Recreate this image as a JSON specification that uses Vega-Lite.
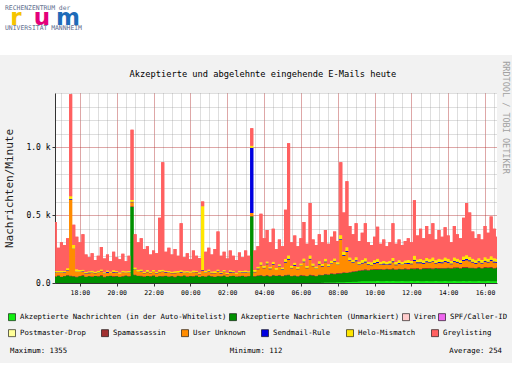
{
"$schema": "https://vega.github.io/schema/vega-lite/v6.json",
"background": "#F2F2F2",
"padding": 0,
"spacing": 6,
"config": {
  "view": {"stroke": null},
  "font": "DejaVu Sans Mono",
  "axis": {"labelFont": "DejaVu Sans Mono", "titleFont": "DejaVu Sans Mono", "labelColor": "#000", "titleColor": "#222", "titleFontWeight": "normal", "domainColor": "#333", "tickColor": "#333"},
  "legend": {"labelFont": "DejaVu Sans Mono", "labelFontSize": 7.3, "labelColor": "#000", "symbolType": "square", "symbolSize": 49, "symbolStrokeColor": "#000", "symbolStrokeWidth": 0.6, "labelOffset": 4, "labelLimit": 400, "padding": 0}
},
"datasets": {
  "mail": [
{"t":"2024-03-05T16:40","a":0,"b":46,"f":4,"g":24,"h":3,"i":12,"j":361},
{"t":"2024-03-05T16:50","a":0,"b":52,"f":5,"g":20,"h":2,"i":10,"j":171},
{"t":"2024-03-05T17:00","a":0,"b":44,"f":3,"g":26,"h":4,"i":13,"j":210},
{"t":"2024-03-05T17:10","a":0,"b":50,"f":4,"g":22,"h":3,"i":9,"j":192},
{"t":"2024-03-05T17:20","a":0,"b":55,"f":6,"g":30,"h":3,"i":14,"j":222},
{"t":"2024-03-05T17:30","a":0,"b":50,"f":5,"g":560,"h":4,"i":20,"j":751},
{"t":"2024-03-05T17:40","a":0,"b":48,"f":4,"g":200,"h":3,"i":25,"j":150},
{"t":"2024-03-05T17:50","a":0,"b":42,"f":5,"g":35,"h":3,"i":16,"j":239},
{"t":"2024-03-05T18:00","a":0,"b":50,"f":4,"g":28,"h":2,"i":12,"j":204},
{"t":"2024-03-05T18:10","a":0,"b":53,"f":6,"g":24,"h":4,"i":11,"j":262},
{"t":"2024-03-05T18:20","a":0,"b":45,"f":3,"g":21,"h":3,"i":9,"j":129},
{"t":"2024-03-05T18:30","a":0,"b":49,"f":4,"g":19,"h":5,"i":10,"j":103},
{"t":"2024-03-05T18:40","a":0,"b":44,"f":5,"g":25,"h":3,"i":13,"j":130},
{"t":"2024-03-05T18:50","a":0,"b":51,"f":3,"g":18,"h":2,"i":8,"j":88},
{"t":"2024-03-05T19:00","a":0,"b":47,"f":4,"g":23,"h":4,"i":12,"j":110},
{"t":"2024-03-05T19:10","a":0,"b":54,"f":5,"g":27,"h":3,"i":11,"j":165},
{"t":"2024-03-05T19:20","a":0,"b":43,"f":4,"g":20,"h":3,"i":9,"j":101},
{"t":"2024-03-05T19:30","a":0,"b":49,"f":3,"g":24,"h":5,"i":12,"j":117},
{"t":"2024-03-05T19:40","a":0,"b":52,"f":4,"g":17,"h":2,"i":8,"j":77},
{"t":"2024-03-05T19:50","a":0,"b":46,"f":6,"g":26,"h":3,"i":13,"j":136},
{"t":"2024-03-05T20:00","a":0,"b":50,"f":4,"g":21,"h":4,"i":10,"j":101},
{"t":"2024-03-05T20:10","a":0,"b":44,"f":3,"g":19,"h":3,"i":9,"j":97},
{"t":"2024-03-05T20:20","a":0,"b":48,"f":5,"g":24,"h":2,"i":12,"j":124},
{"t":"2024-03-05T20:30","a":0,"b":53,"f":4,"g":18,"h":3,"i":8,"j":74},
{"t":"2024-03-05T20:40","a":0,"b":47,"f":4,"g":22,"h":4,"i":11,"j":112},
{"t":"2024-03-05T20:50","a":0,"b":560,"f":5,"g":30,"h":3,"i":14,"j":518},
{"t":"2024-03-05T21:00","a":0,"b":58,"f":5,"g":32,"h":4,"i":15,"j":246},
{"t":"2024-03-05T21:10","a":0,"b":52,"f":4,"g":26,"h":3,"i":12,"j":203},
{"t":"2024-03-05T21:20","a":0,"b":49,"f":6,"g":28,"h":3,"i":13,"j":231},
{"t":"2024-03-05T21:30","a":0,"b":45,"f":4,"g":22,"h":2,"i":10,"j":167},
{"t":"2024-03-05T21:40","a":0,"b":51,"f":3,"g":25,"h":4,"i":12,"j":175},
{"t":"2024-03-05T21:50","a":0,"b":47,"f":4,"g":20,"h":3,"i":9,"j":127},
{"t":"2024-03-05T22:00","a":0,"b":53,"f":5,"g":24,"h":3,"i":11,"j":144},
{"t":"2024-03-05T22:10","a":0,"b":44,"f":4,"g":21,"h":2,"i":10,"j":139},
{"t":"2024-03-05T22:20","a":0,"b":50,"f":4,"g":26,"h":3,"i":13,"j":384},
{"t":"2024-03-05T22:30","a":0,"b":48,"f":5,"g":28,"h":4,"i":12,"j":793},
{"t":"2024-03-05T22:40","a":0,"b":52,"f":4,"g":22,"h":3,"i":10,"j":139},
{"t":"2024-03-05T22:50","a":0,"b":46,"f":3,"g":25,"h":3,"i":12,"j":171},
{"t":"2024-03-05T23:00","a":0,"b":49,"f":4,"g":19,"h":2,"i":9,"j":127},
{"t":"2024-03-05T23:10","a":0,"b":43,"f":5,"g":24,"h":4,"i":11,"j":163},
{"t":"2024-03-05T23:20","a":0,"b":51,"f":4,"g":20,"h":3,"i":10,"j":112},
{"t":"2024-03-05T23:30","a":0,"b":47,"f":4,"g":27,"h":3,"i":13,"j":346},
{"t":"2024-03-05T23:40","a":0,"b":55,"f":3,"g":18,"h":2,"i":8,"j":104},
{"t":"2024-03-05T23:50","a":0,"b":45,"f":5,"g":23,"h":4,"i":11,"j":132},
{"t":"2024-03-06T00:00","a":0,"b":50,"f":4,"g":19,"h":3,"i":9,"j":90},
{"t":"2024-03-06T00:10","a":0,"b":48,"f":4,"g":25,"h":3,"i":12,"j":148},
{"t":"2024-03-06T00:20","a":0,"b":53,"f":5,"g":21,"h":2,"i":10,"j":109},
{"t":"2024-03-06T00:30","a":0,"b":44,"f":3,"g":18,"h":3,"i":9,"j":108},
{"t":"2024-03-06T00:40","a":0,"b":49,"f":4,"g":40,"h":3,"i":470,"j":34},
{"t":"2024-03-06T00:50","a":0,"b":46,"f":4,"g":24,"h":4,"i":12,"j":140},
{"t":"2024-03-06T01:00","a":0,"b":52,"f":5,"g":26,"h":3,"i":13,"j":161},
{"t":"2024-03-06T01:10","a":0,"b":48,"f":4,"g":20,"h":3,"i":10,"j":125},
{"t":"2024-03-06T01:20","a":0,"b":45,"f":3,"g":24,"h":2,"i":12,"j":164},
{"t":"2024-03-06T01:30","a":0,"b":50,"f":4,"g":28,"h":4,"i":14,"j":280},
{"t":"2024-03-06T01:40","a":0,"b":47,"f":4,"g":19,"h":3,"i":9,"j":118},
{"t":"2024-03-06T01:50","a":0,"b":53,"f":5,"g":23,"h":3,"i":11,"j":135},
{"t":"2024-03-06T02:00","a":0,"b":44,"f":3,"g":18,"h":2,"i":8,"j":105},
{"t":"2024-03-06T02:10","a":0,"b":49,"f":4,"g":25,"h":4,"i":12,"j":146},
{"t":"2024-03-06T02:20","a":0,"b":51,"f":4,"g":21,"h":3,"i":10,"j":111},
{"t":"2024-03-06T02:30","a":0,"b":46,"f":3,"g":17,"h":2,"i":8,"j":94},
{"t":"2024-03-06T02:40","a":0,"b":48,"f":5,"g":24,"h":3,"i":11,"j":134},
{"t":"2024-03-06T02:50","a":0,"b":52,"f":4,"g":20,"h":3,"i":9,"j":102},
{"t":"2024-03-06T03:00","a":0,"b":45,"f":4,"g":26,"h":4,"i":13,"j":148},
{"t":"2024-03-06T03:10","a":0,"b":50,"f":3,"g":21,"h":3,"i":10,"j":113},
{"t":"2024-03-06T03:20","a":0,"b":490,"f":4,"g":22,"h":480,"i":15,"j":129},
{"t":"2024-03-06T03:30","a":0,"b":47,"f":4,"g":28,"h":4,"i":12,"j":145},
{"t":"2024-03-06T03:40","a":0,"b":52,"f":5,"g":45,"h":4,"i":14,"j":150},
{"t":"2024-03-06T03:50","a":0,"b":55,"f":5,"g":70,"h":5,"i":18,"j":357},
{"t":"2024-03-06T04:00","a":0,"b":50,"f":4,"g":55,"h":3,"i":15,"j":203},
{"t":"2024-03-06T04:10","a":0,"b":53,"f":6,"g":80,"h":4,"i":16,"j":231},
{"t":"2024-03-06T04:20","a":0,"b":48,"f":4,"g":50,"h":5,"i":13,"j":180},
{"t":"2024-03-06T04:30","a":0,"b":56,"f":5,"g":75,"h":4,"i":17,"j":243},
{"t":"2024-03-06T04:40","a":0,"b":51,"f":4,"g":40,"h":3,"i":12,"j":140},
{"t":"2024-03-06T04:50","a":0,"b":54,"f":5,"g":60,"h":4,"i":15,"j":182},
{"t":"2024-03-06T05:00","a":0,"b":49,"f":4,"g":45,"h":3,"i":14,"j":155},
{"t":"2024-03-06T05:10","a":0,"b":55,"f":6,"g":90,"h":5,"i":20,"j":364},
{"t":"2024-03-06T05:20","a":0,"b":57,"f":5,"g":110,"h":6,"i":25,"j":827},
{"t":"2024-03-06T05:30","a":0,"b":50,"f":4,"g":55,"h":4,"i":15,"j":172},
{"t":"2024-03-06T05:40","a":0,"b":53,"f":5,"g":70,"h":5,"i":16,"j":201},
{"t":"2024-03-06T05:50","a":0,"b":48,"f":4,"g":50,"h":3,"i":13,"j":152},
{"t":"2024-03-06T06:00","a":0,"b":55,"f":5,"g":65,"h":4,"i":15,"j":186},
{"t":"2024-03-06T06:10","a":0,"b":52,"f":6,"g":95,"h":5,"i":22,"j":270},
{"t":"2024-03-06T06:20","a":0,"b":50,"f":4,"g":55,"h":3,"i":14,"j":164},
{"t":"2024-03-06T06:30","a":0,"b":58,"f":5,"g":110,"h":6,"i":24,"j":387},
{"t":"2024-03-06T06:40","a":0,"b":54,"f":5,"g":65,"h":4,"i":16,"j":176},
{"t":"2024-03-06T06:50","a":0,"b":50,"f":4,"g":50,"h":3,"i":14,"j":159},
{"t":"2024-03-06T07:00","a":0,"b":57,"f":5,"g":75,"h":5,"i":18,"j":200},
{"t":"2024-03-06T07:10","a":2,"b":55,"f":4,"g":60,"h":4,"i":15,"j":160},
{"t":"2024-03-06T07:20","a":3,"b":60,"f":5,"g":85,"h":5,"i":20,"j":212},
{"t":"2024-03-06T07:30","a":3,"b":58,"f":4,"g":55,"h":4,"i":15,"j":151},
{"t":"2024-03-06T07:40","a":4,"b":62,"f":5,"g":70,"h":5,"i":18,"j":176},
{"t":"2024-03-06T07:50","a":4,"b":60,"f":6,"g":85,"h":5,"i":20,"j":200},
{"t":"2024-03-06T08:00","a":5,"b":63,"f":5,"g":60,"h":4,"i":16,"j":157},
{"t":"2024-03-06T08:10","a":5,"b":65,"f":6,"g":240,"h":6,"i":30,"j":538},
{"t":"2024-03-06T08:20","a":6,"b":68,"f":6,"g":120,"h":6,"i":25,"j":289},
{"t":"2024-03-06T08:30","a":7,"b":66,"f":5,"g":150,"h":7,"i":28,"j":487},
{"t":"2024-03-06T08:40","a":8,"b":70,"f":5,"g":80,"h":5,"i":20,"j":232},
{"t":"2024-03-06T08:50","a":9,"b":72,"f":6,"g":60,"h":5,"i":20,"j":188},
{"t":"2024-03-06T09:00","a":10,"b":75,"f":6,"g":70,"h":6,"i":22,"j":251},
{"t":"2024-03-06T09:10","a":11,"b":78,"f":5,"g":40,"h":5,"i":18,"j":153},
{"t":"2024-03-06T09:20","a":12,"b":80,"f":6,"g":45,"h":6,"i":20,"j":201},
{"t":"2024-03-06T09:30","a":12,"b":82,"f":7,"g":50,"h":7,"i":24,"j":258},
{"t":"2024-03-06T09:40","a":13,"b":80,"f":5,"g":35,"h":5,"i":18,"j":144},
{"t":"2024-03-06T09:50","a":12,"b":83,"f":6,"g":30,"h":4,"i":17,"j":128},
{"t":"2024-03-06T10:00","a":13,"b":85,"f":6,"g":38,"h":6,"i":20,"j":172},
{"t":"2024-03-06T10:10","a":14,"b":82,"f":7,"g":45,"h":7,"i":24,"j":236},
{"t":"2024-03-06T10:20","a":13,"b":86,"f":5,"g":30,"h":5,"i":18,"j":133},
{"t":"2024-03-06T10:30","a":12,"b":84,"f":6,"g":35,"h":6,"i":20,"j":157},
{"t":"2024-03-06T10:40","a":14,"b":88,"f":5,"g":28,"h":4,"i":17,"j":114},
{"t":"2024-03-06T10:50","a":13,"b":85,"f":6,"g":33,"h":6,"i":19,"j":138},
{"t":"2024-03-06T11:00","a":14,"b":87,"f":7,"g":45,"h":7,"i":25,"j":255},
{"t":"2024-03-06T11:10","a":12,"b":84,"f":5,"g":30,"h":5,"i":18,"j":136},
{"t":"2024-03-06T11:20","a":13,"b":88,"f":6,"g":34,"h":6,"i":21,"j":152},
{"t":"2024-03-06T11:30","a":14,"b":85,"f":5,"g":28,"h":5,"i":18,"j":125},
{"t":"2024-03-06T11:40","a":13,"b":89,"f":6,"g":32,"h":6,"i":20,"j":144},
{"t":"2024-03-06T11:50","a":12,"b":86,"f":6,"g":36,"h":7,"i":22,"j":161},
{"t":"2024-03-06T12:00","a":14,"b":90,"f":5,"g":30,"h":5,"i":19,"j":137},
{"t":"2024-03-06T12:10","a":13,"b":88,"f":7,"g":55,"h":8,"i":30,"j":409},
{"t":"2024-03-06T12:20","a":14,"b":91,"f":6,"g":35,"h":6,"i":22,"j":176},
{"t":"2024-03-06T12:30","a":12,"b":87,"f":6,"g":40,"h":7,"i":24,"j":224},
{"t":"2024-03-06T12:40","a":13,"b":92,"f":5,"g":32,"h":6,"i":20,"j":162},
{"t":"2024-03-06T12:50","a":14,"b":89,"f":7,"g":42,"h":8,"i":25,"j":235},
{"t":"2024-03-06T13:00","a":13,"b":93,"f":6,"g":35,"h":6,"i":22,"j":185},
{"t":"2024-03-06T13:10","a":12,"b":90,"f":7,"g":45,"h":7,"i":26,"j":253},
{"t":"2024-03-06T13:20","a":14,"b":94,"f":5,"g":30,"h":5,"i":20,"j":152},
{"t":"2024-03-06T13:30","a":13,"b":91,"f":6,"g":38,"h":7,"i":23,"j":212},
{"t":"2024-03-06T13:40","a":12,"b":95,"f":6,"g":33,"h":6,"i":21,"j":167},
{"t":"2024-03-06T13:50","a":14,"b":92,"f":7,"g":42,"h":8,"i":25,"j":222},
{"t":"2024-03-06T14:00","a":13,"b":96,"f":6,"g":35,"h":6,"i":22,"j":172},
{"t":"2024-03-06T14:10","a":12,"b":93,"f":5,"g":28,"h":5,"i":19,"j":138},
{"t":"2024-03-06T14:20","a":14,"b":95,"f":7,"g":40,"h":7,"i":24,"j":233},
{"t":"2024-03-06T14:30","a":13,"b":97,"f":6,"g":34,"h":6,"i":22,"j":182},
{"t":"2024-03-06T14:40","a":12,"b":94,"f":6,"g":30,"h":6,"i":20,"j":162},
{"t":"2024-03-06T14:50","a":14,"b":96,"f":7,"g":45,"h":8,"i":26,"j":284},
{"t":"2024-03-06T15:00","a":13,"b":98,"f":7,"g":50,"h":8,"i":28,"j":386},
{"t":"2024-03-06T15:10","a":14,"b":95,"f":6,"g":45,"h":7,"i":25,"j":328},
{"t":"2024-03-06T15:20","a":12,"b":97,"f":6,"g":36,"h":6,"i":22,"j":201},
{"t":"2024-03-06T15:30","a":13,"b":94,"f":5,"g":30,"h":5,"i":20,"j":163},
{"t":"2024-03-06T15:40","a":14,"b":98,"f":6,"g":35,"h":7,"i":23,"j":177},
{"t":"2024-03-06T15:50","a":12,"b":95,"f":6,"g":30,"h":6,"i":20,"j":151},
{"t":"2024-03-06T16:00","a":13,"b":97,"f":7,"g":40,"h":7,"i":25,"j":231},
{"t":"2024-03-06T16:10","a":14,"b":96,"f":6,"g":35,"h":6,"i":22,"j":191},
{"t":"2024-03-06T16:20","a":13,"b":98,"f":7,"g":45,"h":8,"i":26,"j":293},
{"t":"2024-03-06T16:30","a":12,"b":95,"f":6,"g":38,"h":7,"i":24,"j":218},
{"t":"2024-03-06T16:40","a":13,"b":97,"f":6,"g":33,"h":6,"i":22,"j":163}
  ]
},
"vconcat": [
  {
    "width": 512,
    "height": 55,
    "view": {"fill": "white", "stroke": null},
    "layer": [
      {
        "data": {"values": [{"k": "r"}, {"k": "u"}, {"k": "m"}]},
        "mark": {"type": "text", "font": "DejaVu Sans", "fontWeight": "bold", "fontSize": 23, "baseline": "alphabetic", "align": "center"},
        "encoding": {
          "x": {"field": "k", "type": "nominal", "scale": {"type": "band", "domain": ["r", "u", "m"], "range": [3, 81], "paddingInner": 0, "paddingOuter": 0}, "axis": null},
          "y": {"datum": "bot", "type": "nominal", "bandPosition": 0.2, "scale": {"type": "band", "domain": ["top", "mid", "bot"], "range": [3, 33], "paddingInner": 0, "paddingOuter": 0}, "axis": null},
          "text": {"field": "k"},
          "color": {"field": "k", "type": "nominal", "scale": {"domain": ["r", "u", "m"], "range": ["#F5C400", "#E4007A", "#1E6BB8"]}, "legend": null}
        }
      },
      {
        "data": {"values": [{"line": "RECHENZENTRUM der", "row": "top"}, {"line": "UNIVERSITÄT MANNHEIM", "row": "bot"}]},
        "mark": {"type": "text", "font": "DejaVu Sans Mono", "fontSize": 6.4, "align": "left", "baseline": "middle", "color": "#5E6E8E", "dx": 2},
        "encoding": {
          "x": {"datum": "r", "type": "nominal", "bandPosition": 0},
          "y": {"field": "row", "type": "nominal", "bandPosition": 0.5},
          "text": {"field": "line"}
        }
      }
    ]
  },
  {
    "bounds": "flush",
    "spacing": 5,
    "hconcat": [
      {
        "width": 50,
        "height": 10,
        "data": {"values": [{"k": "spacer"}]},
        "mark": {"type": "text"},
        "encoding": {"text": {"value": ""}}
      },
      {
        "width": 442,
        "height": 190,
        "view": {"fill": "white", "stroke": null},
        "title": {"text": "Akzeptierte und abgelehnte eingehende E-Mails heute", "font": "DejaVu Sans Mono", "fontSize": 8.7, "fontWeight": "normal", "color": "#000", "offset": 14, "anchor": "middle", "frame": "bounds", "dx": 7},
        "data": {"name": "mail"},
        "transform": [{"fold": ["a", "b", "f", "g", "h", "i", "j"], "as": ["s", "v"]}],
        "encoding": {
          "x": {"field": "t", "type": "temporal",
                "scale": {"domain": [{"year": 2024, "month": 3, "date": 5, "hours": 16, "minutes": 39}, {"year": 2024, "month": 3, "date": 6, "hours": 16, "minutes": 39}], "nice": false},
                "axis": {"tickCount": 48, "labelExpr": "minutes(datum.value) == 0 && hours(datum.value) % 2 == 0 ? timeFormat(datum.value, '%H:%M') : ''",
                         "labelFontSize": 6.5, "tickSize": 3, "labelPadding": 3, "labelFlush": false, "labelOverlap": false, "title": null,
                         "tickOpacity": {"condition": {"test": "minutes(datum.value) == 0 && hours(datum.value) % 2 == 0", "value": 1}, "value": 0},
                         "grid": true, "gridDash": [1, 1],
                         "gridColor": {"condition": {"test": "minutes(datum.value) == 0 && hours(datum.value) % 2 == 0", "value": "rgba(176,48,48,0.85)"}, "value": "rgba(143,143,143,0.6)"}}},
          "y": {"field": "v", "type": "quantitative", "stack": "zero",
                "scale": {"domain": [0, 1400], "nice": false},
                "axis": {"values": [0, 100, 200, 300, 400, 500, 600, 700, 800, 900, 1000, 1100, 1200, 1300, 1400],
                         "labelExpr": "datum.value % 500 != 0 ? '' : datum.value == 0 ? '0.0' : format(datum.value / 1000, '.1f') + ' k'",
                         "labelFontSize": 8, "tickSize": 3, "labelPadding": 2,
                         "tickOpacity": {"condition": {"test": "datum.value % 500 == 0", "value": 1}, "value": 0},
                         "grid": true, "gridDash": [1, 1],
                         "gridColor": {"condition": {"test": "datum.value % 500 == 0", "value": "rgba(176,48,48,0.85)"}, "value": "rgba(143,143,143,0.6)"},
                         "title": "Nachrichten/Minute", "titleFontSize": 11, "titlePadding": 11}},
          "order": {"field": "s", "sort": "ascending"}
        },
        "layer": [
          {
            "mark": {"type": "area", "clip": true, "interpolate": "step"},
            "encoding": {
              "color": {"field": "s", "type": "nominal",
                        "scale": {"domain": ["a", "b", "c", "d", "e", "f", "g", "h", "i", "j"], "range": ["#11EE11", "#009000", "#FFCCCC", "#EE66EE", "#FFFF99", "#A03030", "#FF8C00", "#0000E0", "#FFE600", "#FF6060"]},
                        "legend": {"values": ["a", "b", "c", "d"], "orient": "none", "legendX": -47, "legendY": 220, "direction": "horizontal", "columns": 4, "columnPadding": 1, "title": null,
                                   "labelExpr": "datum.label == 'a' ? 'Akzeptierte Nachrichten (in der Auto-Whitelist)' : datum.label == 'b' ? 'Akzeptierte Nachrichten (Unmarkiert)' : datum.label == 'c' ? 'Viren' : 'SPF/Caller-ID'"}}
            }
          },
          {
            "mark": {"type": "area", "clip": true, "interpolate": "step"},
            "encoding": {
              "color": {"field": "s", "type": "nominal",
                        "scale": {"domain": ["a", "b", "c", "d", "e", "f", "g", "h", "i", "j"], "range": ["#11EE11", "#009000", "#FFCCCC", "#EE66EE", "#FFFF99", "#A03030", "#FF8C00", "#0000E0", "#FFE600", "#FF6060"]},
                        "legend": {"values": ["e", "f", "g", "h", "i", "j"], "orient": "none", "legendX": -47, "legendY": 236, "direction": "horizontal", "columns": 6, "columnPadding": 14, "title": null,
                                   "labelExpr": "datum.label == 'e' ? 'Postmaster-Drop' : datum.label == 'f' ? 'Spamassassin' : datum.label == 'g' ? 'User Unknown' : datum.label == 'h' ? 'Sendmail-Rule' : datum.label == 'i' ? 'Helo-Mismatch' : 'Greylisting'"}}
            }
          }
        ],
        "resolve": {"scale": {"color": "independent"}}
      },
      {
        "width": 8,
        "height": 49,
        "data": {"values": [{"label": "RRDTOOL / TOBI OETIKER"}]},
        "mark": {"type": "text", "angle": 90, "align": "center", "baseline": "middle", "font": "DejaVu Sans Mono", "fontSize": 8.5, "color": "#A0A0A0"},
        "encoding": {"text": {"field": "label"}}
      }
    ]
  },
  {
    "width": 512,
    "height": 13,
    "data": {"values": [{"k": "max", "label": "Maximum: 1355"}, {"k": "min", "label": "Minimum: 112"}, {"k": "avg", "label": "Average: 254"}]},
    "layer": [
      {
        "transform": [{"filter": "datum.k == 'max'"}],
        "mark": {"type": "text", "align": "left", "baseline": "middle", "font": "DejaVu Sans Mono", "fontSize": 7.3, "color": "#000"},
        "encoding": {
          "x": {"field": "k", "type": "nominal", "bandPosition": 0, "scale": {"type": "band", "domain": ["max", "min", "avg"], "paddingInner": 0, "paddingOuter": 0.061}, "axis": null},
          "text": {"field": "label"}
        }
      },
      {
        "transform": [{"filter": "datum.k == 'min'"}],
        "mark": {"type": "text", "align": "center", "baseline": "middle", "font": "DejaVu Sans Mono", "fontSize": 7.3, "color": "#000"},
        "encoding": {
          "x": {"field": "k", "type": "nominal", "bandPosition": 0.5},
          "text": {"field": "label"}
        }
      },
      {
        "transform": [{"filter": "datum.k == 'avg'"}],
        "mark": {"type": "text", "align": "right", "baseline": "middle", "font": "DejaVu Sans Mono", "fontSize": 7.3, "color": "#000"},
        "encoding": {
          "x": {"field": "k", "type": "nominal", "bandPosition": 1},
          "text": {"field": "label"}
        }
      }
    ]
  },
  {
    "width": 512,
    "height": 22,
    "view": {"fill": "white", "stroke": null},
    "data": {"values": [{"k": "blank"}]},
    "mark": {"type": "text"},
    "encoding": {"text": {"value": ""}}
  }
]
}
